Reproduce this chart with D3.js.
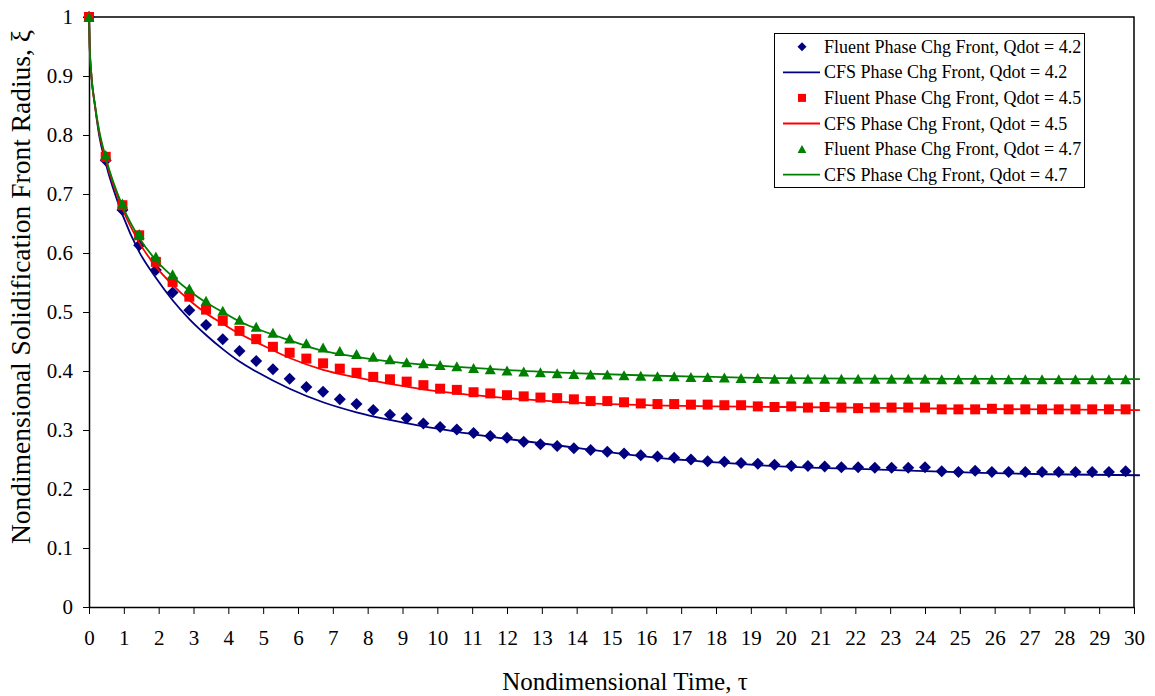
<!DOCTYPE html>
<html>
<head>
<meta charset="utf-8">
<script src="https://cdn.jsdelivr.net/npm/d3@7"></script>
<style>
  body { margin: 0; background: #fff; }
  svg { display: block; font-family: "Liberation Serif", "Times New Roman", serif; }
</style>
</head>
<body>
<svg width="1155" height="696"></svg>
<script>
// fluent sample times
const tauFluent = [0, 0.48, 0.96, 1.44, 1.92, 2.40, 2.88, 3.36, 3.84, 4.32, 4.80, 5.28, 5.76, 6.24, 6.72, 7.20,
  7.68, 8.16, 8.64, 9.12, 9.60, 10.08, 10.56, 11.04, 11.52, 12.00, 12.48, 12.96, 13.44, 13.92, 14.40, 14.88,
  15.36, 15.84, 16.32, 16.80, 17.28, 17.76, 18.24, 18.72, 19.20, 19.68, 20.16, 20.64, 21.12, 21.60, 22.08,
  22.56, 23.04, 23.52, 24.00, 24.48, 24.96, 25.44, 25.92, 26.40, 26.88, 27.36, 27.84, 28.32, 28.80, 29.28, 29.76];

const fluent42 = [1.000, 0.757, 0.673, 0.613, 0.571, 0.533, 0.503, 0.478, 0.454, 0.434, 0.417, 0.403, 0.387, 0.373,
  0.365, 0.352, 0.344, 0.334, 0.326, 0.320, 0.311, 0.305, 0.301, 0.295, 0.290, 0.287, 0.280, 0.276, 0.273, 0.269,
  0.266, 0.263, 0.260, 0.257, 0.255, 0.253, 0.250, 0.247, 0.246, 0.244, 0.243, 0.241, 0.239, 0.239, 0.238, 0.237,
  0.237, 0.236, 0.236, 0.236, 0.237, 0.230, 0.229, 0.231, 0.229, 0.229, 0.229, 0.229, 0.229, 0.229, 0.229, 0.229, 0.230];

const fluent45 = [1.000, 0.763, 0.681, 0.630, 0.585, 0.551, 0.526, 0.504, 0.485, 0.468, 0.454, 0.441, 0.431, 0.421,
  0.413, 0.404, 0.397, 0.390, 0.386, 0.382, 0.376, 0.370, 0.368, 0.364, 0.362, 0.359, 0.357, 0.355, 0.354, 0.352,
  0.349, 0.349, 0.347, 0.345, 0.344, 0.344, 0.343, 0.343, 0.342, 0.342, 0.340, 0.339, 0.340, 0.338, 0.339, 0.338,
  0.337, 0.338, 0.338, 0.338, 0.338, 0.335, 0.335, 0.335, 0.336, 0.335, 0.335, 0.335, 0.335, 0.335, 0.335, 0.335, 0.335];

const fluent47 = [1.000, 0.766, 0.684, 0.632, 0.594, 0.564, 0.540, 0.519, 0.502, 0.487, 0.475, 0.465, 0.455, 0.447,
  0.440, 0.434, 0.429, 0.424, 0.420, 0.415, 0.413, 0.410, 0.408, 0.405, 0.403, 0.401, 0.399, 0.398, 0.396, 0.395,
  0.394, 0.394, 0.393, 0.392, 0.391, 0.391, 0.390, 0.390, 0.389, 0.388, 0.388, 0.387, 0.387, 0.387, 0.387, 0.387,
  0.387, 0.387, 0.387, 0.387, 0.387, 0.386, 0.386, 0.386, 0.386, 0.386, 0.386, 0.386, 0.386, 0.386, 0.386, 0.386, 0.386];

// CFS curves, read at their own times
const tauCfs42 = [0, 0.02, 0.07, 0.17, 0.29, 0.48, 0.96, 1.44, 1.92, 2.40, 2.88, 3.36, 3.84, 4.32, 4.80, 5.76,
  6.72, 7.68, 8.64, 9.60, 10.56, 12.00, 14.10, 16.00, 18.00, 20.00, 22.70, 25.60, 27.50, 30.17];
const cfs42 = [1.000, 0.950, 0.900, 0.850, 0.800, 0.752, 0.665, 0.602, 0.558, 0.520, 0.488, 0.461, 0.437, 0.416,
  0.399, 0.370, 0.347, 0.330, 0.317, 0.306, 0.297, 0.285, 0.269, 0.255, 0.245, 0.238, 0.233, 0.2273, 0.225, 0.2233];

const tauCfs45 = [0, 0.02, 0.07, 0.17, 0.29, 0.48, 0.96, 1.44, 1.92, 2.40, 2.88, 3.36, 3.84, 4.32, 4.80, 5.76,
  6.72, 7.68, 8.64, 9.60, 10.56, 12.00, 14.10, 16.00, 18.00, 20.00, 25.00, 30.17];
const cfs45 = [1.000, 0.950, 0.900, 0.850, 0.805, 0.758, 0.675, 0.618, 0.577, 0.546, 0.520, 0.498, 0.480, 0.463,
  0.449, 0.422, 0.402, 0.389, 0.378, 0.369, 0.362, 0.354, 0.346, 0.342, 0.340, 0.339, 0.336, 0.3336];

const tauCfs47 = [0, 0.02, 0.07, 0.17, 0.29, 0.48, 0.96, 1.44, 1.92, 2.40, 2.88, 3.36, 3.84, 4.32, 4.80, 5.76,
  6.72, 7.68, 8.64, 9.60, 10.56, 12.18, 14.10, 16.01, 17.92, 19.84, 22.70, 25.00, 30.17];
const cfs47 = [1.000, 0.950, 0.900, 0.852, 0.808, 0.762, 0.680, 0.626, 0.588, 0.560, 0.536, 0.516, 0.500, 0.484,
  0.472, 0.452, 0.434, 0.424, 0.416, 0.411, 0.407, 0.401, 0.396, 0.3924, 0.390, 0.3878, 0.387, 0.3867, 0.3861];

const xTicks = d3.range(0, 31);
const yTicks = [0, 0.1, 0.2, 0.3, 0.4, 0.5, 0.6, 0.7, 0.8, 0.9, 1];
const yTickLabels = ['0', '0.1', '0.2', '0.3', '0.4', '0.5', '0.6', '0.7', '0.8', '0.9', '1'];

const legendLabels = ['Fluent Phase Chg Front, Qdot = 4.2', 'CFS Phase Chg Front, Qdot = 4.2',
  'Fluent Phase Chg Front, Qdot = 4.5', 'CFS Phase Chg Front, Qdot = 4.5',
  'Fluent Phase Chg Front, Qdot = 4.7', 'CFS Phase Chg Front, Qdot = 4.7'];

const NAVY = '#000080', RED = '#ff0000', GREEN = '#008000';

const svg = d3.select('svg');
const plotLeft = 89, plotRight = 1134, plotTop = 17, plotBottom = 607;

const x = d3.scaleLinear().domain([0, 30]).range([plotLeft, plotRight]);
const y = d3.scaleLinear().domain([0, 1]).range([plotBottom, plotTop]);

// frame (top and right)
svg.append('path')
  .attr('d', `M${plotLeft},${plotTop}H${plotRight}V${plotBottom}`)
  .attr('fill', 'none').attr('stroke', '#000').attr('stroke-width', 1.5);

const xAxis = svg.append('g')
  .attr('transform', `translate(0,${plotBottom})`)
  .call(d3.axisBottom(x).tickValues(xTicks).tickFormat(d3.format('d')).tickSizeInner(7).tickSizeOuter(0).tickPadding(16));
const yAxis = svg.append('g')
  .attr('transform', `translate(${plotLeft},0)`)
  .call(d3.axisLeft(y).tickValues(yTicks).tickFormat((d, i) => yTickLabels[i]).tickSizeInner(6).tickSizeOuter(0).tickPadding(10));

[xAxis, yAxis].forEach(g => {
  g.select('.domain').attr('stroke', '#000').attr('stroke-width', 1.5);
  g.selectAll('.tick line').attr('stroke', '#000');
  g.selectAll('.tick text').attr('font-size', 21).attr('fill', '#000')
    .style('font-family', '"Liberation Serif", "Times New Roman", serif');
});

// axis titles
svg.append('text')
  .attr('x', 625).attr('y', 690)
  .attr('text-anchor', 'middle').attr('font-size', 25)
  .text('Nondimensional Time, τ');
svg.append('text')
  .attr('transform', 'translate(30,287) rotate(-90)')
  .attr('text-anchor', 'middle').attr('font-size', 27.5)
  .text('Nondimensional Solidification Front Radius, ξ');

// marker shapes
function diamond(s) { return `M0,${-s}L${s},0L0,${s}L${-s},0Z`; }
function square(s) { return `M${-s},${-s}H${s}V${s}H${-s}Z`; }
function triangle(s) { return `M0,${-s}L${s * 1.1},${s}L${-s * 1.1},${s}Z`; }

const line = d3.line().x(d => x(d[0])).y(d => y(d[1])).curve(d3.curveMonotoneX);

function drawMarkers(vals, shape, size, color) {
  svg.append('g').selectAll('path')
    .data(d3.zip(tauFluent, vals))
    .join('path')
    .attr('transform', d => `translate(${x(d[0])},${y(d[1])})`)
    .attr('d', shape(size))
    .attr('fill', color);
}
function drawLine(taus, vals, color) {
  svg.append('path')
    .datum(d3.zip(taus, vals))
    .attr('d', line)
    .attr('fill', 'none')
    .attr('stroke', color)
    .attr('stroke-width', 1.8);
}

drawMarkers(fluent42, diamond, 6, NAVY);
drawLine(tauCfs42, cfs42, NAVY);
drawMarkers(fluent45, square, 5, RED);
drawLine(tauCfs45, cfs45, RED);
drawMarkers(fluent47, triangle, 5, GREEN);
drawLine(tauCfs47, cfs47, GREEN);

// legend
const legend = svg.append('g');
legend.append('rect')
  .attr('x', 774.5).attr('y', 33.5).attr('width', 310).attr('height', 154)
  .attr('fill', '#fff').attr('stroke', '#000').attr('stroke-width', 1);

const legendItems = [
  { type: 'marker', shape: diamond, size: 4.5, color: NAVY },
  { type: 'line', color: NAVY },
  { type: 'marker', shape: square, size: 4, color: RED },
  { type: 'line', color: RED },
  { type: 'marker', shape: triangle, size: 4, color: GREEN },
  { type: 'line', color: GREEN }
];
legendItems.forEach((item, i) => {
  const cy = 46.7 + i * 25.6;
  if (item.type === 'marker') {
    legend.append('path')
      .attr('transform', `translate(802,${cy})`)
      .attr('d', item.shape(item.size))
      .attr('fill', item.color);
  } else {
    legend.append('line')
      .attr('x1', 783).attr('x2', 820).attr('y1', cy).attr('y2', cy)
      .attr('stroke', item.color).attr('stroke-width', 1.8);
  }
  legend.append('text')
    .attr('x', 824).attr('y', cy + 6)
    .attr('font-size', 18)
    .text(legendLabels[i]);
});
</script>
</body>
</html>
